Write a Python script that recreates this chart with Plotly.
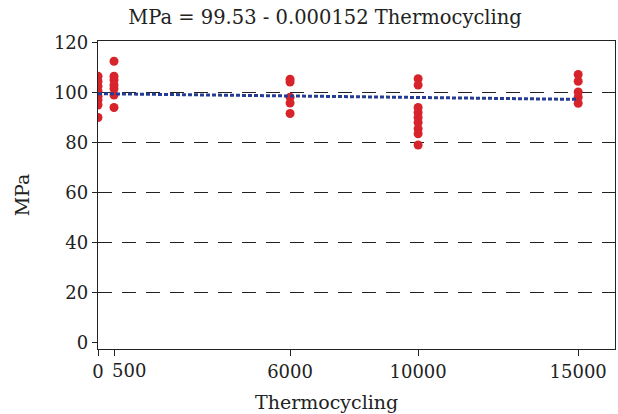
import plotly.graph_objects as go

cycles_0 = [0] * 8
mpa_0 = [106.5, 104.5, 102.5, 100.5, 98.5, 97, 95, 90]
cycles_500 = [500] * 7
mpa_500 = [112.5, 106.5, 105, 103, 101.5, 99, 94]
cycles_6000 = [6000] * 5
mpa_6000 = [105.3, 104.2, 98.1, 95.8, 91.6]
cycles_10000 = [10000] * 9
mpa_10000 = [105.5, 103, 94, 92, 90, 88, 85.5, 83.5, 79]
cycles_15000 = [15000] * 5
mpa_15000 = [107.2, 104.5, 100.2, 98.1, 95.7]

x_all = cycles_0 + cycles_500 + cycles_6000 + cycles_10000 + cycles_15000
y_all = mpa_0 + mpa_500 + mpa_6000 + mpa_10000 + mpa_15000

intercept = 99.53
slope = -0.000152
fit_x = [0, 15000]
fit_y = [intercept + slope * v for v in fit_x]

x_ticks = [0, 500, 6000, 10000, 15000]
x_ticktext = ["0", "", "6000", "10000", "15000"]
y_ticks = [0, 20, 40, 60, 80, 100, 120]
grid_vals = [20, 40, 60, 80, 100]

FONT = "DejaVu Serif"
INK = "#222222"

fig = go.Figure()
fig.add_trace(go.Scatter(x=x_all, y=y_all, mode="markers",
                         marker=dict(color="#d7242b", size=9),
                         showlegend=False))
fig.add_trace(go.Scatter(x=fit_x, y=fit_y, mode="lines",
                         line=dict(color="#243c94", width=3, dash="4px,2px"),
                         showlegend=False))
fig.add_trace(go.Scatter(x=[None], y=[None], yaxis="y2", showlegend=False))

yr = [-2.6, 120.6]
fig.update_layout(
    width=618, height=414,
    margin=dict(l=98, r=3, t=41, b=65, autoexpand=False),
    paper_bgcolor="white", plot_bgcolor="white",
    font=dict(family=FONT, color=INK, size=18),
    title=dict(text="MPa = 99.53 - 0.000152 Thermocycling", x=325 / 618, xanchor="center",
               xref="container", y=1 - 17 / 414, yref="container", yanchor="middle",
               font=dict(size=19.5, family=FONT)),
    xaxis=dict(range=[0, 16150], tickvals=x_ticks, ticktext=x_ticktext, tickangle=0,
               automargin=False,
               showgrid=False, zeroline=False, showline=True, linecolor=INK,
               linewidth=1.3, mirror=True, ticks="outside", ticklen=6,
               tickcolor=INK, tickfont=dict(size=18)),
    yaxis=dict(range=yr, tickvals=y_ticks, showgrid=False, zeroline=False, automargin=False,
               showline=True, linecolor=INK, linewidth=1.3, mirror=True,
               ticks="outside", ticklen=5, tickcolor=INK,
               tickfont=dict(size=18),
               title=dict(text="MPa", font=dict(size=19), standoff=19)),
    yaxis2=dict(range=yr, overlaying="y", tickvals=grid_vals, showticklabels=False,
                automargin=False,
                showgrid=True, gridcolor=INK, gridwidth=1.3,
                griddash="14px,10px", zeroline=False, showline=False, ticks=""),
    annotations=[
        dict(text="500", xref="x", yref="paper", x=500, y=0, xshift=15, yshift=-9,
             xanchor="center", yanchor="top", showarrow=False,
             font=dict(size=18, family=FONT, color=INK)),
        dict(text="Thermocycling", xref="paper", yref="paper",
             x=(326 - 98) / 517, y=-(402 - 349) / 308, xanchor="center", yanchor="middle",
             showarrow=False, font=dict(size=19, family=FONT, color=INK)),
    ],
)
fig.write_html("out.html", config={"displayModeBar": False},
               post_script="document.body.style.margin='0';")
